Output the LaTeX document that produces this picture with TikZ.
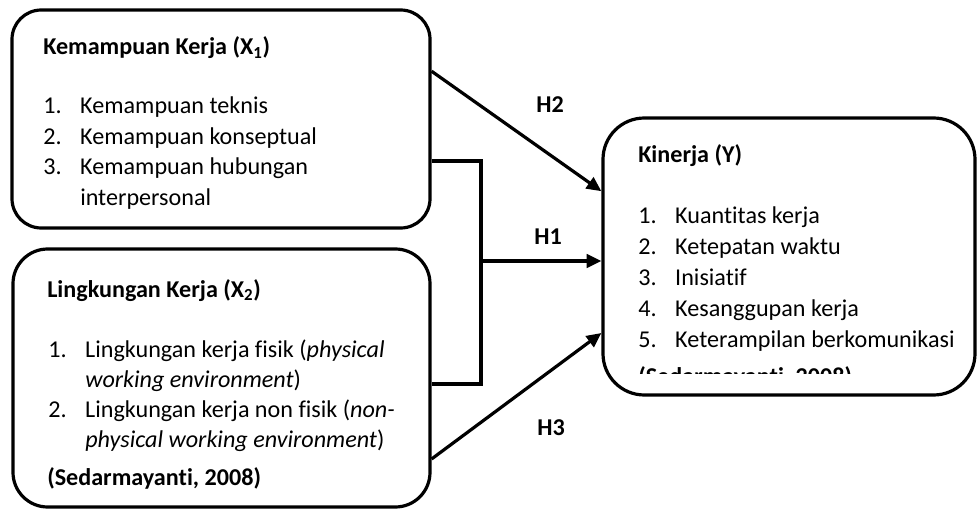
\documentclass[tikz,border=0pt]{standalone}
\usepackage{fontspec}
\setmainfont{Carlito}[Ligatures=NoCommon]
\usepackage{tikz}
\usetikzlibrary{arrows.meta, positioning, calc}

\newcommand{\diafont}{\fontsize{18.1pt}{22pt}\selectfont}
\newcommand{\itm}[2]{\makebox[27.75pt][l]{#1}#2}

\tikzset{
  box/.style={draw, line width=2.4pt, inner sep=0pt},
  conn/.style={line width=2.4pt},
  arr/.style={conn, -{Triangle[length=11pt,width=10pt]}},
  txt/.style={anchor=base west, inner sep=0pt, font=\diafont},
  hyp/.style={inner sep=0pt, font=\diafont\bfseries},
}

\begin{document}
\begin{tikzpicture}[x=0.75pt, y=-0.75pt]
  \useasboundingbox (0,0) rectangle (979,510);

  % Boxes
  \node[box, rounded corners=22pt, minimum width=313.5pt, minimum height=163.5pt] (x1) at (221,119) {};
  \node[box, rounded corners=26pt, minimum width=312.75pt, minimum height=193.5pt] (x2) at (221.5,378) {};
  \node[box, rounded corners=31pt, minimum width=279pt, minimum height=207.75pt] (ky) at (789,256.5) {};

  % X1 text
  \node[txt, font=\diafont\bfseries] (x1t) at (43,55) {Kemampuan Kerja (X\textsubscript{1})};
  \begin{scope}
    \clip (12,10) rectangle (430,208);
    \foreach \n/\y/\lbl [count=\i] in {1./113.5/Kemampuan teknis, 2./144/Kemampuan konseptual, 3./174.5/Kemampuan hubungan, /205/interpersonal}
      \node[txt] (x1l\i) at (43,\y) {\itm{\n}{\lbl}};
  \end{scope}

  % X2 text
  \node[txt, font=\diafont\bfseries] (x2t) at (47,297) {Lingkungan Kerja (X\textsubscript{2})};
  \foreach \n/\y/\lbl [count=\i] in {1./357/{Lingkungan kerja fisik (\textit{physical}}, /387/{\textit{working environment})}, 2./417/{Lingkungan kerja non fisik (\textit{non-}}, /447/{\textit{physical working environment})}}
    \node[txt] (x2l\i) at (48,\y) {\itm{\n}{\lbl}};
  \node[txt, font=\diafont\bfseries] (x2s) at (47,485) {(Sedarmayanti, 2008)};

  % Y text
  \node[txt, font=\diafont\bfseries] (kyt) at (638,162) {Kinerja (Y)};
  \begin{scope}
    \clip (603,118) rectangle (975,373);
    \foreach \n/\y/\lbl [count=\i] in {1./223/Kuantitas kerja, 2./254/Ketepatan waktu, 3./285/Inisiatif, 4./316/Kesanggupan kerja, 5./347/Keterampilan berkomunikasi}
      \node[txt] (kyl\i) at (638,\y) {\itm{\n}{\lbl}};
    \node[txt, font=\diafont\bfseries] (kys) at (638,384) {(Sedarmayanti, 2008)};
  \end{scope}

  % Paths
  \coordinate (jn) at (481,261);
  \draw[arr] ($(x1.north east)!0.284!(x1.south east)$) -- ($(ky.north west)!0.267!(ky.south west)$);
  \draw[conn] ($(x1.north east)!0.69!(x1.south east)$) -| (jn) |- ($(x2.north east)!0.523!(x2.south east)$);
  \draw[arr] (jn) -- (jn -| ky.west);
  \draw[arr] ($(x2.north east)!0.81!(x2.south east)$) -- ($(ky.north west)!0.773!(ky.south west)$);

  % Labels
  \node[hyp] (h2) at (550,105) {H2};
  \node[hyp] (h1) at (548,237) {H1};
  \node[hyp] (h3) at (551,428) {H3};
\end{tikzpicture}
\end{document}
